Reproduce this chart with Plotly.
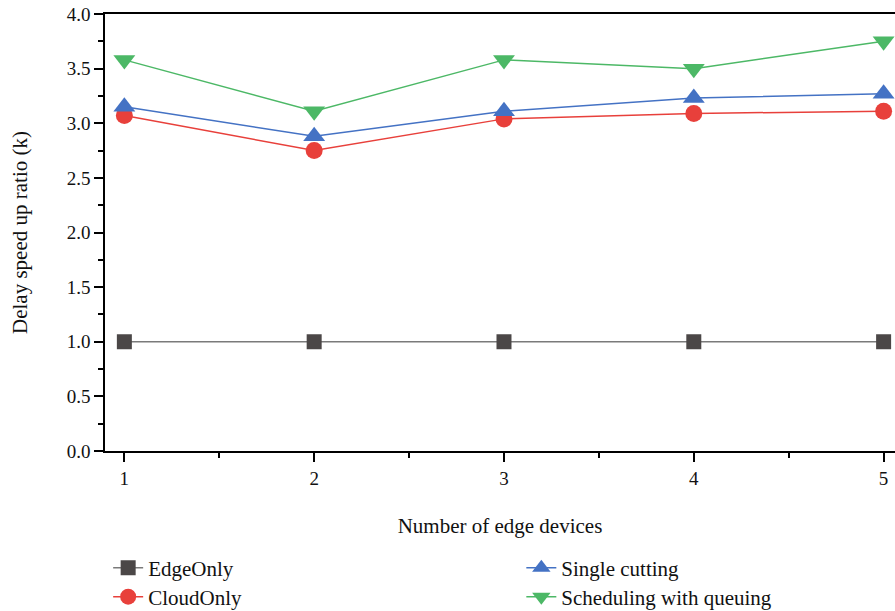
import plotly.graph_objects as go

devices = [1, 2, 3, 4, 5]
edge_only = [1.0, 1.0, 1.0, 1.0, 1.0]
cloud_only = [3.07, 2.75, 3.04, 3.09, 3.11]
single_cutting = [3.15, 2.88, 3.11, 3.23, 3.27]
sched_queuing = [3.58, 3.11, 3.58, 3.50, 3.75]

FONT = "Liberation Serif"

fig = go.Figure()
fig.add_trace(go.Scatter(x=devices, y=edge_only, name="EdgeOnly", mode="lines+markers",
                         line=dict(color="#7a7a7a", width=1.5),
                         marker=dict(symbol="square", size=15, color="#4b4747"),
                         legend="legend"))
fig.add_trace(go.Scatter(x=devices, y=cloud_only, name="CloudOnly", mode="lines+markers",
                         line=dict(color="#e8403b", width=1.5),
                         marker=dict(symbol="circle", size=17, color="#e8403b"),
                         legend="legend2"))
fig.add_trace(go.Scatter(x=devices, y=single_cutting, name="Single cutting", mode="lines+markers",
                         line=dict(color="#4472c4", width=1.5),
                         marker=dict(symbol="triangle-up", size=19, color="#4472c4"),
                         legend="legend3"))
fig.add_trace(go.Scatter(x=devices, y=sched_queuing, name="Scheduling with queuing", mode="lines+markers",
                         line=dict(color="#4cb866", width=1.5),
                         marker=dict(symbol="triangle-down", size=19, color="#4cb866"),
                         legend="legend4"))

def leg(x, y):
    return dict(x=x, xanchor="left", y=y, yanchor="middle", yref="container",
                font=dict(family=FONT, size=21, color="#111111"),
                bgcolor="rgba(0,0,0,0)", itemwidth=30)

fig.update_layout(
    width=895, height=611,
    margin=dict(l=105, r=0, t=14, b=160),
    paper_bgcolor="white", plot_bgcolor="white",
    font=dict(family=FONT, size=19, color="#111111"),
    showlegend=True,
    legend=leg(0.004, 0.0704),
    legend2=leg(0.004, 0.0229),
    legend3=leg(0.527, 0.0704),
    legend4=leg(0.527, 0.0229),
    xaxis=dict(range=[0.898, 5.06], tickmode="array", tickvals=devices,
               ticktext=[str(d) for d in devices], automargin=False,
               ticks="outside", ticklen=9, tickwidth=1.5, tickcolor="black",
               showline=True, linecolor="black", linewidth=1.5, mirror=True,
               showgrid=False, zeroline=False,
               minor=dict(dtick=0.5, tick0=1, ticks="outside", ticklen=5, tickwidth=1.5, tickcolor="black"),
               title=dict(text="Number of edge devices", standoff=31, font=dict(family=FONT, size=21))),
    yaxis=dict(range=[0, 4.0], dtick=0.5, tick0=0, tickformat=".1f", automargin=False,
               ticks="outside", ticklen=9, tickwidth=1.5, tickcolor="black",
               showline=True, linecolor="black", linewidth=1.5, mirror=False,
               showgrid=False, zeroline=False,
               minor=dict(dtick=0.25, tick0=0, ticks="outside", ticklen=5, tickwidth=1.5, tickcolor="black"),
               title=dict(text="Delay speed up ratio (k)", standoff=33, font=dict(family=FONT, size=21))),
)

fig.write_html("out.html", config={"displayModeBar": False},
               post_script="document.body.style.margin='0px';")
